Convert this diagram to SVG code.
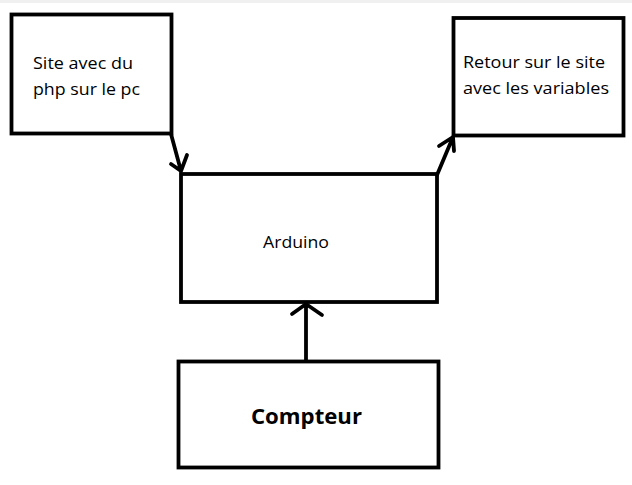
<svg xmlns="http://www.w3.org/2000/svg" width="632" height="485" viewBox="0 0 632 485">
<style>
.box{fill:none;stroke:#000;stroke-width:3.8}
.ln{fill:none;stroke:#000;stroke-width:3.8;stroke-linecap:round;stroke-linejoin:round}
.t{font-family:"Open Sans","Noto Sans","Liberation Sans",sans-serif;font-size:17px;fill:#000}
.b{font-family:"Open Sans","Noto Sans","Liberation Sans",sans-serif;font-size:22px;font-weight:bold;fill:#000}
</style>
<rect x="0" y="0" width="632" height="485" fill="#fff"/>
<rect x="0" y="0" width="632" height="3" fill="#f0f0f0"/>
<g id="site">
<rect class="box" x="11.5" y="14.5" width="160" height="119"/>
<text class="t" x="33" y="69" textLength="100" lengthAdjust="spacingAndGlyphs">Site avec du</text>
<text class="t" x="33" y="95" textLength="107" lengthAdjust="spacingAndGlyphs">php sur le pc</text>
</g>
<g id="retour">
<rect class="box" x="453.5" y="18" width="170" height="117.5"/>
<text class="t" x="463" y="68" textLength="142" lengthAdjust="spacingAndGlyphs">Retour sur le site</text>
<text class="t" x="463" y="94" textLength="146" lengthAdjust="spacingAndGlyphs">avec les variables</text>
</g>
<g id="arduino">
<rect class="box" x="181" y="174" width="256" height="128"/>
<text class="t" x="263" y="248" textLength="66" lengthAdjust="spacingAndGlyphs">Arduino</text>
</g>
<g id="compteur">
<rect class="box" x="178.5" y="361.5" width="260" height="106"/>
<text class="b" x="251" y="424" textLength="111" lengthAdjust="spacingAndGlyphs">Compteur</text>
</g>
<g id="connectors">
<path class="ln" d="M171,134 L181,171 M171,164 L181,171 L187,155"/>
<path class="ln" d="M437,175 L453,137 M439,146 L453,137 L454,151"/>
<path class="ln" d="M306,360 L306,304 M292,314 L306,304 L322,315"/>
</g>
</svg>
